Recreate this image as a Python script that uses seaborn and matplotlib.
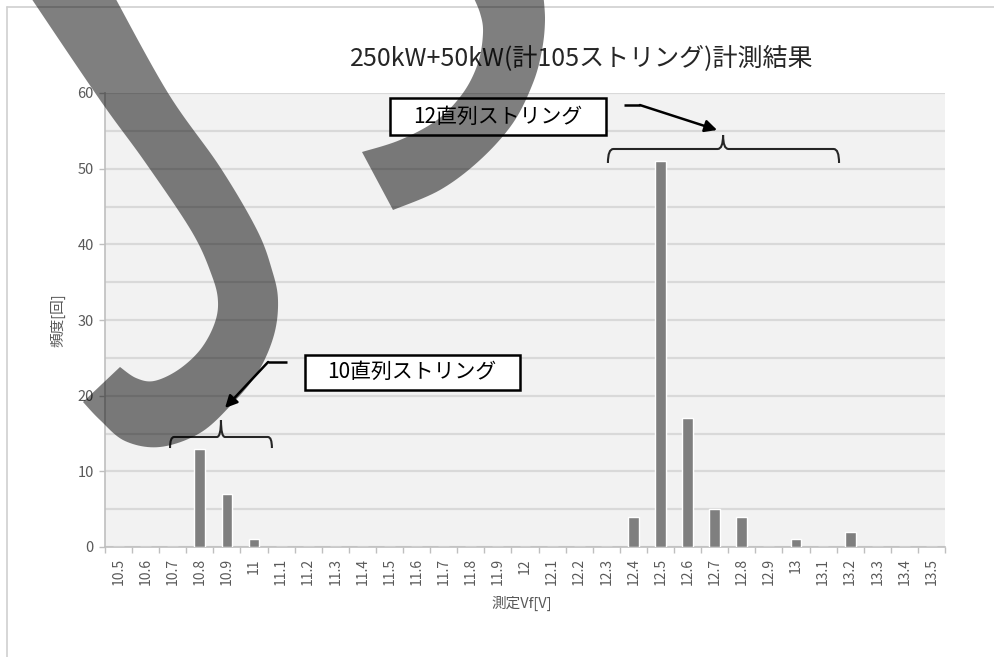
import numpy as np
import matplotlib
matplotlib.use("Agg")
import matplotlib.pyplot as plt
from matplotlib.patches import Rectangle, Polygon, PathPatch
from matplotlib.path import Path
import seaborn as sns

# Measured Vf bins and how many strings fell into each
vf_labels = ["10.5", "10.6", "10.7", "10.8", "10.9", "11", "11.1", "11.2", "11.3",
             "11.4", "11.5", "11.6", "11.7", "11.8", "11.9", "12", "12.1", "12.2",
             "12.3", "12.4", "12.5", "12.6", "12.7", "12.8", "12.9", "13", "13.1",
             "13.2", "13.3", "13.4", "13.5"]
counts = [0, 0, 0, 13, 7, 1, 0, 0, 0,
          0, 0, 0, 0, 0, 0, 0, 0, 0,
          0, 4, 51, 17, 5, 4, 0, 1, 0,
          2, 0, 0, 0]
y_ticks = [0, 10, 20, 30, 40, 50, 60]

title = "250kW+50kW(計105ストリング)計測結果"
xlabel = "測定Vf[V]"
ylabel = "頻度[回]"
group12 = "12直列ストリング"
group10 = "10直列ストリング"

sns.set_theme(style="white")
plt.rcParams["font.family"] = ["Noto Sans CJK JP", "DejaVu Sans"]

W, H = 995, 657
fig = plt.figure(figsize=(W / 100, H / 100), dpi=100)
fig.patch.set_facecolor("white")

left, right, top, bottom = 105, 945, 93, 547
ax = fig.add_axes([left / W, 1 - bottom / H, (right - left) / W, (bottom - top) / H])
ax.set_facecolor("#f2f2f2")

sns.barplot(x=vf_labels, y=counts, color="#7f7f7f", saturation=1, width=0.4,
            ax=ax, zorder=3)

ax.set_xlim(-0.5, len(vf_labels) - 0.5)
ax.set_ylim(0, 60)
ax.set_yticks(y_ticks)
ax.set_yticks(np.arange(5, 60, 10), minor=True)
ax.set_xticks(np.arange(-0.5, len(vf_labels), 1.0), minor=True)
ax.grid(axis="y", which="both", color="#d9d9d9", linewidth=1.6, zorder=0)
ax.grid(axis="x", visible=False)
ax.set_axisbelow(True)

for s in ["top", "right"]:
    ax.spines[s].set_visible(False)
for s in ["left", "bottom"]:
    ax.spines[s].set_color("#bfbfbf")
    ax.spines[s].set_linewidth(1.2)

ax.tick_params(axis="x", which="major", length=0, pad=8, labelsize=10,
               labelcolor="#595959", rotation=90)
ax.tick_params(axis="x", which="minor", length=4, width=1, color="#bfbfbf",
               direction="out", bottom=True)
ax.tick_params(axis="y", which="major", length=4, width=1, color="#bfbfbf",
               direction="out", left=True, pad=4, labelsize=10.5, labelcolor="#595959")
ax.tick_params(axis="y", which="minor", length=0)

ax.set_xlabel(xlabel, fontsize=10.5, color="#595959")
ax.set_ylabel(ylabel, fontsize=10.5, color="#595959")
ax.xaxis.set_label_coords(0.496, -0.108)
ax.yaxis.set_label_coords(-0.047, 0.5)

fig.text(582 / W, 1 - 58 / H, title, ha="center", va="center", fontsize=18,
         color="#262626")


# Group annotations: labelled boxes, arrows and braces
def label_box(x0, x1, y0, y1, text, tx, ty):
    ax.add_patch(Rectangle((x0, y0), x1 - x0, y1 - y0, facecolor="white",
                           edgecolor="black", linewidth=1.8, clip_on=False, zorder=6))
    ax.text(tx, ty, text, ha="center", va="center", fontsize=15, color="black",
            zorder=7, clip_on=False)


def arrow(start, bend, tip):
    ax.plot([start[0], bend[0]], [start[1], bend[1]], color="black", lw=1.8,
            solid_capstyle="butt", clip_on=False, zorder=6)
    ax.annotate("", xy=tip, xytext=bend,
                arrowprops=dict(arrowstyle="-|>", color="black", lw=1.8,
                                mutation_scale=18, shrinkA=0, shrinkB=0),
                annotation_clip=False, zorder=6)


def brace(x0, x1, xc, y_line, y_end, y_tip, dx=0.2):
    for a, sgn in ((x0, 1), (x1, -1)):
        verts = [(a, y_end), (a, y_line), (a + sgn * dx, y_line),
                 (xc - sgn * dx, y_line), (xc, y_line), (xc, y_tip)]
        codes = [Path.MOVETO, Path.CURVE3, Path.CURVE3,
                 Path.LINETO, Path.CURVE3, Path.CURVE3]
        ax.add_patch(PathPatch(Path(verts, codes), facecolor="none",
                               edgecolor="#262626", lw=1.5, clip_on=False, zorder=6))


label_box(10.02, 17.99, 54.45, 59.33, group12, 14.0, 56.9)
arrow((18.65, 58.41), (19.24, 58.41), (22.09, 55.11))
brace(18.06, 26.59, 22.31, 52.6, 50.75, 54.45)

label_box(6.88, 14.82, 20.75, 25.37, group10, 10.83, 23.1)
arrow((6.22, 24.45), (5.52, 24.45), (3.93, 18.37))
brace(1.90, 5.66, 3.78, 14.54, 13.08, 16.78, dx=0.15)

# Light frame around the chart area
fig.add_artist(plt.Line2D([7 / W, 7 / W], [0, 1 - 7 / H], color="#d0d0d0", lw=1.2,
                          transform=fig.transFigure))
fig.add_artist(plt.Line2D([7 / W, 1], [1 - 7 / H, 1 - 7 / H], color="#d0d0d0", lw=1.2,
                          transform=fig.transFigure))


# Translucent marker strokes across the chart, outlined in pixels
def smooth(pts, n=12):
    """Catmull-Rom curve through the given outline points."""
    p = np.asarray(pts, dtype=float)
    p = np.vstack([p[0], p, p[-1]])
    out = []
    for i in range(1, len(p) - 2):
        p0, p1, p2, p3 = p[i - 1], p[i], p[i + 1], p[i + 2]
        for t in np.linspace(0, 1, n, endpoint=False):
            t2, t3 = t * t, t * t * t
            out.append(0.5 * ((2 * p1) + (-p0 + p2) * t
                              + (2 * p0 - 5 * p1 + 4 * p2 - p3) * t2
                              + (-p0 + 3 * p1 - 3 * p2 + p3) * t3))
    out.append(p[-2])
    return np.array(out)


def add_stroke(outer, inner):
    pts = np.vstack([smooth(outer), smooth(inner)])
    pts = [(x / W, 1 - y / H) for x, y in pts]
    fig.add_artist(Polygon(pts, closed=True, facecolor="black", edgecolor="none",
                           alpha=0.5, transform=fig.transFigure, zorder=100))


add_stroke(
    [(112, -8), (168, 93), (220, 167), (257, 230), (272, 270), (278, 300),
     (274, 335), (258, 372), (232, 404), (200, 433), (160, 447), (125, 441),
     (100, 420), (83, 402)],
    [(120, 367), (136, 378), (154, 381), (178, 370), (200, 350), (214, 325),
     (218, 302), (212, 276), (192, 232), (145, 162), (100, 100), (27, -8)],
)
add_stroke(
    [(543, -8), (545, 20), (542, 50), (533, 83), (513, 123), (480, 160),
     (440, 190), (393, 210)],
    [(362, 152), (400, 140), (437, 120), (463, 93), (478, 63), (483, 33),
     (480, 13), (471, -8)],
)

fig.savefig("out.png", dpi=100)
